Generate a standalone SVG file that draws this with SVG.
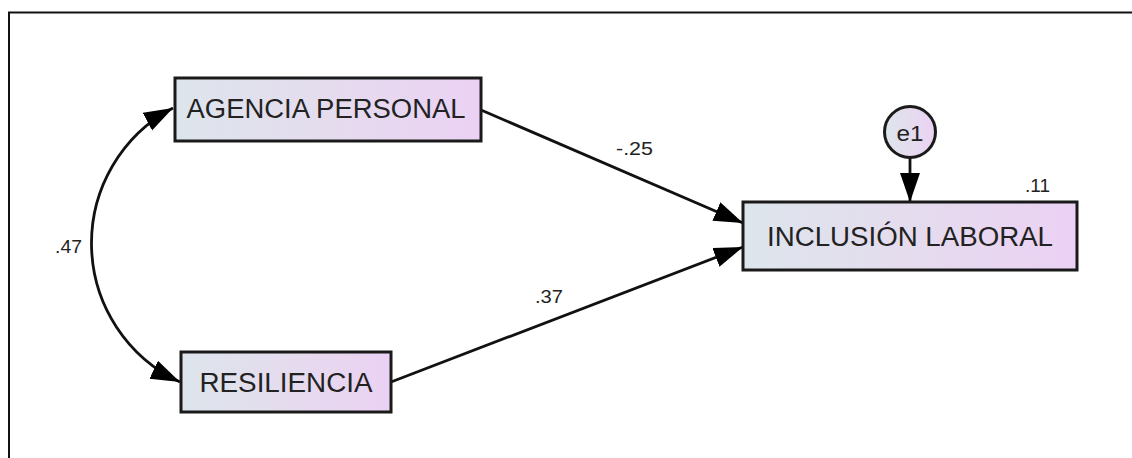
<svg xmlns="http://www.w3.org/2000/svg" width="1132" height="458" viewBox="0 0 1132 458">
<style>
.box{stroke:#1a1a1a;stroke-width:3;}
.lbl{font-family:"Liberation Sans",Arial,sans-serif;font-size:27px;fill:#222;text-anchor:middle;}
.num{font-family:"Liberation Sans",Arial,sans-serif;font-size:19px;fill:#222;}
.conn{fill:none;stroke:#111;stroke-width:2.8;}
</style>
<defs>
<linearGradient id="g" x1="0" y1="0" x2="1" y2="0">
<stop offset="0" stop-color="#dde5ec"/>
<stop offset="0.5" stop-color="#e5dcee"/>
<stop offset="1" stop-color="#ebd1f4"/>
</linearGradient>
<marker id="ah" markerUnits="userSpaceOnUse" markerWidth="32" markerHeight="22" refX="29" refY="10" orient="auto-start-reverse">
<path d="M0,0 L29,10 L0,20 Z" fill="#000"/>
</marker>
</defs>
<rect width="1132" height="458" fill="#fff"/>
<path d="M9,458 L9,12.5 L1132,12.5" fill="none" stroke="#111" stroke-width="2"/>
<g id="connectors">
<path class="conn" d="M173,108 A153,153 0 0,0 180,382" marker-start="url(#ah)" marker-end="url(#ah)"/>
<path class="conn" d="M481,110 L743,223" marker-end="url(#ah)"/>
<path class="conn" d="M391,382 L743,247" marker-end="url(#ah)"/>
<path class="conn" d="M910,158 L910,202" marker-end="url(#ah)"/>
<text class="num" x="616" y="155" textLength="37" lengthAdjust="spacingAndGlyphs">-.25</text>
<text class="num" x="535" y="303" textLength="28" lengthAdjust="spacingAndGlyphs">.37</text>
<text class="num" x="55" y="253" textLength="27" lengthAdjust="spacingAndGlyphs">.47</text>
<text class="num" x="1025" y="192" textLength="25" lengthAdjust="spacingAndGlyphs">.11</text>
</g>
<g id="agencia">
<rect class="box" x="175" y="78" width="306" height="63" fill="url(#g)"/>
<text class="lbl" x="326" y="118" textLength="279" lengthAdjust="spacingAndGlyphs">AGENCIA PERSONAL</text>
</g>
<g id="resiliencia">
<rect class="box" x="181" y="352" width="210" height="60" fill="url(#g)"/>
<text class="lbl" x="286" y="392" textLength="173" lengthAdjust="spacingAndGlyphs">RESILIENCIA</text>
</g>
<g id="inclusion">
<rect class="box" x="743" y="202" width="334" height="68" fill="url(#g)"/>
<text class="lbl" x="910" y="246" textLength="286" lengthAdjust="spacingAndGlyphs">INCLUSIÓN LABORAL</text>
</g>
<g id="e1">
<circle class="box" cx="910" cy="132" r="25.5" fill="url(#g)"/>
<text class="lbl" x="910" y="141" style="font-size:22px" textLength="27" lengthAdjust="spacingAndGlyphs">e1</text>
</g>
</svg>
